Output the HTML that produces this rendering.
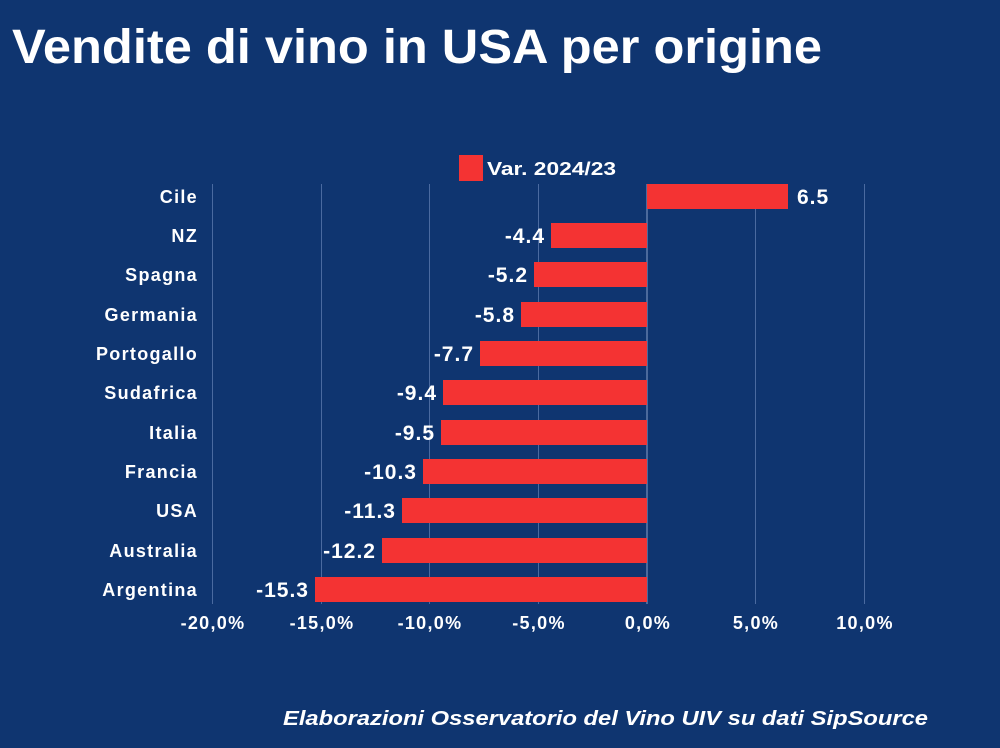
<!DOCTYPE html>
<html><head><meta charset="utf-8"><style>html,body{margin:0;padding:0;background:#0f3570;}svg{display:block}</style></head>
<body>
<svg width="1000" height="748" viewBox="0 0 1000 748" xmlns="http://www.w3.org/2000/svg" font-family="Liberation Sans, sans-serif" font-weight="bold">
<rect width="1000" height="748" fill="#0f3570"/>
<text x="12" y="63" fill="#fff" font-size="48" textLength="810" lengthAdjust="spacingAndGlyphs">Vendite di vino in USA per origine</text>
<g stroke="#4a6aa0" stroke-width="1">
<line x1="212.5" y1="184" x2="212.5" y2="604"/>
<line x1="321.5" y1="184" x2="321.5" y2="604"/>
<line x1="429.5" y1="184" x2="429.5" y2="604"/>
<line x1="538.5" y1="184" x2="538.5" y2="604"/>
<line x1="755.5" y1="184" x2="755.5" y2="604"/>
<line x1="864.5" y1="184" x2="864.5" y2="604"/>
</g>
<line x1="647" y1="184" x2="647" y2="604" stroke="#8aa0c8" stroke-width="1"/>
<rect x="459" y="155" width="24" height="26" fill="#f43333"/>
<text x="487" y="175" fill="#fff" font-size="18" textLength="129" lengthAdjust="spacingAndGlyphs">Var. 2024/23</text>
<g fill="#f43333">
<rect x="647" y="184" width="141" height="25"/>
<rect x="551" y="223" width="96" height="25"/>
<rect x="534" y="262" width="113" height="25"/>
<rect x="521" y="302" width="126" height="25"/>
<rect x="480" y="341" width="167" height="25"/>
<rect x="443" y="380" width="204" height="25"/>
<rect x="441" y="420" width="206" height="25"/>
<rect x="423" y="459" width="224" height="25"/>
<rect x="402" y="498" width="245" height="25"/>
<rect x="382" y="538" width="265" height="25"/>
<rect x="315" y="577" width="332" height="25"/>
</g>
<g fill="#fff" font-size="18" letter-spacing="1.3" text-anchor="end">
<text x="198" y="203">Cile</text>
<text x="198" y="242">NZ</text>
<text x="198" y="281">Spagna</text>
<text x="198" y="321">Germania</text>
<text x="198" y="360">Portogallo</text>
<text x="198" y="399">Sudafrica</text>
<text x="198" y="439">Italia</text>
<text x="198" y="478">Francia</text>
<text x="198" y="517">USA</text>
<text x="198" y="557">Australia</text>
<text x="198" y="596">Argentina</text>
</g>
<g fill="#fff" font-size="21" letter-spacing="1">
<text x="797" y="204">6.5</text>
<g text-anchor="end">
<text x="545" y="243">-4.4</text>
<text x="528" y="282">-5.2</text>
<text x="515" y="322">-5.8</text>
<text x="474" y="361">-7.7</text>
<text x="437" y="400">-9.4</text>
<text x="435" y="440">-9.5</text>
<text x="417" y="479">-10.3</text>
<text x="396" y="518">-11.3</text>
<text x="376" y="558">-12.2</text>
<text x="309" y="597">-15.3</text>
</g></g>
<g fill="#fff" font-size="18" letter-spacing="1.3" text-anchor="middle">
<text x="213" y="629">-20,0%</text>
<text x="322" y="629">-15,0%</text>
<text x="430" y="629">-10,0%</text>
<text x="539" y="629">-5,0%</text>
<text x="648" y="629">0,0%</text>
<text x="756" y="629">5,0%</text>
<text x="865" y="629">10,0%</text>
</g>
<text x="283" y="725" fill="#fff" font-size="20" font-style="italic" textLength="645" lengthAdjust="spacingAndGlyphs">Elaborazioni Osservatorio del Vino UIV su dati SipSource</text>
</svg>
</body></html>
